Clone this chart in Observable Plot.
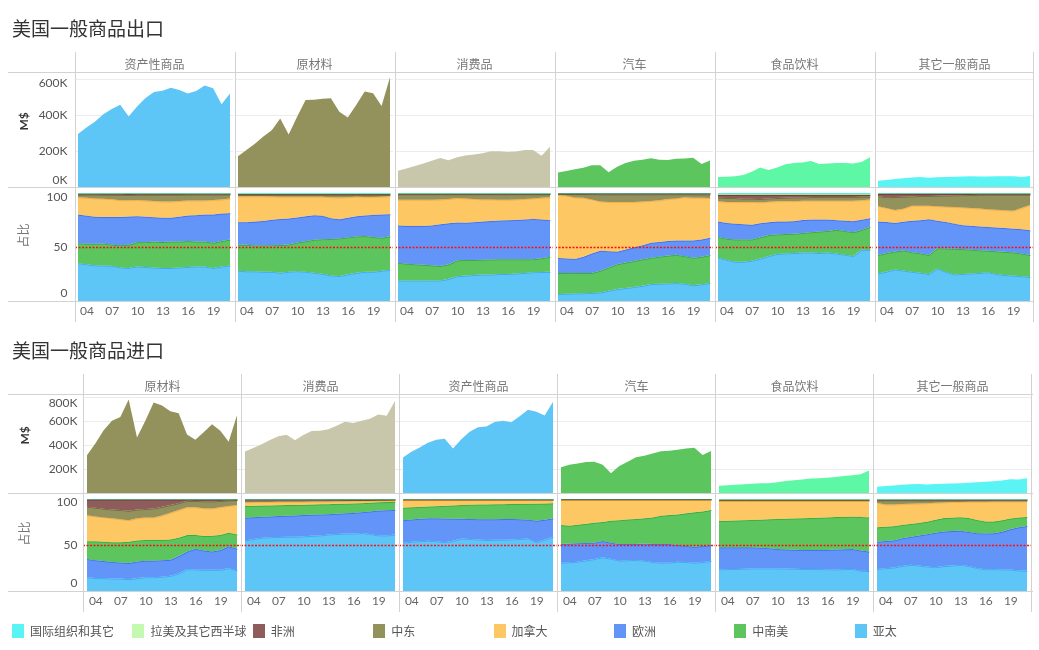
<!DOCTYPE html>
<html><head><meta charset="utf-8">
<script src="https://cdn.jsdelivr.net/npm/d3@7"></script>
<script src="https://cdn.jsdelivr.net/npm/@observablehq/plot@0.6"></script>
<style>
body{margin:0;background:#fff;}
#root{position:relative;width:1039px;height:650px;overflow:hidden;font-family:"Noto Sans CJK SC",sans-serif;}
.title{position:absolute;left:12px;font-size:19px;line-height:19px;color:#333;font-family:"Noto Sans CJK SC",sans-serif;}
.abs{position:absolute;left:0;width:1039px;}
.hl{position:absolute;left:8px;width:1025px;height:1px;background:#d2d2d2;}
#legend{position:absolute;left:12px;top:614px;width:1020px;}
#legend [class$="-swatches-wrap"]{font-family:"Noto Sans CJK SC",sans-serif !important;font-size:12px !important;color:#555 !important;}
#legend [class$="-swatch"]{width:120.4px;margin-right:0 !important;}
#legend [class$="-swatch"] > svg{margin-right:6px !important;}
</style>
</head><body>
<div id="root">
  <div class="title" style="top:18px">美国一般商品出口</div>
  <div id="exTop" class="abs" style="top:52px"></div>
  <div id="exBot" class="abs" style="top:188px"></div>
  <div class="title" style="top:340px">美国一般商品进口</div>
  <div id="imTop" class="abs" style="top:374px"></div>
  <div id="imBot" class="abs" style="top:493px"></div>
  <div class="hl" style="top:72px"></div>
  <div class="hl" style="top:187px"></div>
  <div class="hl" style="top:301px"></div>
  <div class="hl" style="top:394px"></div>
  <div class="hl" style="top:493px"></div>
  <div class="hl" style="top:591px"></div>
  <div id="legend"></div>
</div>
<script>
// ---------- data ----------
const years = [2003,2004,2005,2006,2007,2008,2009,2010,2011,2012,2013,2014,2015,2016,2017,2018,2019,2020,2021];
const yearTicks = [2004,2007,2010,2013,2016,2019];
const regions = ["国际组织和其它","拉美及其它西半球","非洲","中东","加拿大","欧洲","中南美","亚太"];
const regionColors = ["#5af4f4","#c4f9b2","#905b5b","#94925c","#fdc764","#6394f8","#5cc55e","#5ec5f7"];
const categories = ["资产性商品","原材料","消费品","汽车","食品饮料","其它一般商品"];
const categoryColors = ["#5ec5f7","#94925c","#c8c7ac","#5cc55e","#5ef7a6","#5af4f4"];
const exportCats = ["资产性商品","原材料","消费品","汽车","食品饮料","其它一般商品"];
const importCats = ["原材料","消费品","资产性商品","汽车","食品饮料","其它一般商品"];
const exportStackOrder = ["亚太","中南美","欧洲","加拿大","中东","非洲","拉美及其它西半球","国际组织和其它"];
const importStackOrder = ["亚太","欧洲","中南美","加拿大","中东","非洲","拉美及其它西半球","国际组织和其它"];
const exValueTicks = [0,200,400,600];
const imValueTicks = [200,400,600,800];
const shareTicks = [0,0.5,1];

// export totals (K M$)
const exCapital    = [294,331,362,404,433,457,392,447,494,527,534,551,539,519,533,563,548,460,519];
const exIndustrial = [171,205,240,280,315,381,292,390,483,485,490,493,418,386,455,530,520,450,610];
const exConsumer   = [90,103,116,130,146,161,149,165,175,181,188,199,198,194,197,206,205,174,223];
const exAuto       = [81,89,98,107,121,121,82,112,133,146,152,159,151,150,157,158,162,128,147];
const exFood       = [55,57,59,66,84,108,94,108,126,133,136,144,128,130,133,133,131,139,165];
const exOther      = [35,39,44,48,53,55,51,54,55,57,58,59,58,58,59,60,60,56,61];
// import totals (K M$)
const imIndustrial = [314,412,523,602,634,779,462,603,755,730,681,665,487,443,507,574,520,428,649];
const imConsumer   = [345,375,407,442,474,485,440,484,517,520,532,560,594,584,602,620,655,645,767];
const imCapital    = [296,343,380,418,444,453,370,449,510,548,555,591,602,589,640,693,678,647,761];
const imAuto       = [214,235,245,258,260,235,165,225,260,298,310,330,348,352,360,372,378,317,350];
const imFood       = [61,64,68,73,78,82,82,90,100,106,112,120,124,128,134,142,148,156,187];
const imOther      = [53,58,63,68,72,75,70,74,78,80,82,86,90,94,99,105,115,112,123];

// export shares (%) in exportStackOrder: 亚太, 中南美, 欧洲, 加拿大, 中东, 非洲, 拉美, 国际
const exCapitalShare = [
  [35,34,33,33,32.5,31,30.5,32,31.5,31,30.5,30.5,31,31.5,32,32,30.5,32,33],
  [18.5,19,20,20.5,19.5,20.5,21.5,22.5,23,24,24,24.5,24,24,23,23,23.5,23.5,24],
  [26.5,26,25,24.5,25.5,26,26,24,23.5,22.5,22.5,22,23,23.5,24.5,25,26,25.5,24.5],
  [16,16.5,17,17,16.5,15.5,15,15,15,15,15,15,14.5,14,13.5,13,13.5,13,13.5],
  [2.5,3,3.5,3.8,4,5,5,4.7,5.3,5.8,6.3,6.3,5.8,5.4,5.5,5.5,5,4.6,3.8],
  [0.8,0.8,0.8,0.9,1,1,1.1,1,1,1,0.9,0.9,0.9,0.8,0.8,0.8,0.8,0.8,0.7],
  [0.4,0.4,0.4,0.4,0.4,0.4,0.4,0.4,0.4,0.4,0.4,0.4,0.4,0.4,0.4,0.4,0.4,0.4,0.4],
  [0.3,0.3,0.3,0.3,0.3,0.3,0.3,0.3,0.3,0.3,0.3,0.3,0.3,0.3,0.3,0.3,0.3,0.3,0.3]
];
const exIndustrialShare = [
  [28,27.5,27.5,27,27,26,27,27.5,27,26,25,23.5,23,24.5,26,27,27,28,29],
  [24,24.5,24,24.5,24.5,25.5,25,26.5,28,30.5,32,33.5,34.5,34,33.5,33,32,30.5,31],
  [21,21,22,22.5,23.5,24,24,23,23,22.5,21.5,19,17.5,18,18.5,19,20.5,21.5,20.5],
  [24,24,23.5,22.8,21.5,20.5,20,19,18,17,17.5,19.5,20,19,18,17,16.5,16.5,16.5],
  [1.3,1.3,1.3,1.4,1.5,1.8,1.8,1.8,1.8,1.8,1.8,2.1,2.5,2.1,1.8,2,2,1.7,1.4],
  [0.7,0.7,0.7,0.7,0.7,0.7,0.7,0.7,0.7,0.7,0.7,0.7,0.7,0.7,0.7,0.7,0.7,0.7,0.7],
  [0.6,0.6,0.6,0.6,0.6,0.6,0.6,0.6,0.6,0.6,0.6,0.6,0.6,0.6,0.6,0.6,0.6,0.6,0.6],
  [0.4,0.4,0.4,0.4,0.4,0.4,0.4,0.4,0.4,0.4,0.4,0.4,0.4,0.4,0.4,0.4,0.4,0.4,0.4]
];
const exConsumerShare = [
  [19,19,19,19,19,19,20.5,23,23.5,24,24.5,24.5,25,25,25.5,26,26.7,26.8,27],
  [16.5,15.5,15,14.5,14,13.4,13.5,14.7,14.5,14,13.8,14,13.7,13.7,13.2,12.7,12,12.7,14],
  [34.5,35,35.5,36,37,38.6,38,34.9,34.5,35,35.2,35.5,35.8,36.1,36.3,36.8,37.3,36,33.8],
  [23.7,24.2,24.2,24.2,23.7,23,22.5,22.7,22.5,21.5,20.5,20,19.3,18.9,19,19,19,20,21.2],
  [5.1,5.1,5.1,5.1,5.1,4.8,4.3,3.5,3.8,4.3,4.8,4.8,5,5.1,4.8,4.3,3.8,3.3,2.8],
  [0.5,0.5,0.5,0.5,0.5,0.5,0.5,0.5,0.5,0.5,0.5,0.5,0.5,0.5,0.5,0.5,0.5,0.5,0.5],
  [0.4,0.4,0.4,0.4,0.4,0.4,0.4,0.4,0.4,0.4,0.4,0.4,0.4,0.4,0.4,0.4,0.4,0.4,0.4],
  [0.3,0.3,0.3,0.3,0.3,0.3,0.3,0.3,0.3,0.3,0.3,0.3,0.3,0.3,0.3,0.3,0.3,0.3,0.3]
];
const exAutoShare = [
  [6.6,6.8,7,7.2,7.5,7.9,9.5,11,12,12.9,14,15.7,16,16.3,16.7,16,14.5,15.5,16.7],
  [19.4,19.2,19,18.8,18.5,20.1,21.5,23,23.5,24.1,24.5,24.3,25,25.7,26.1,25.5,25.5,25.5,25.8],
  [14,13.5,13,15,18,18.5,15,11.6,12,12.7,13,13.8,13.5,13.5,13.2,14.5,16,16,16],
  [58.4,58,57,54.5,50,45.5,45.5,45.9,44,41.8,40.5,38.7,38.5,38.8,39,40,39.5,38.5,36.8],
  [1.1,1.8,3.2,3.5,4.8,6.5,7,7,7,7,6.5,6,5.6,4.4,3.8,2.9,3.3,3.2,3.2],
  [0.3,0.4,0.5,0.6,0.7,0.9,0.9,0.9,0.9,0.9,0.9,0.9,0.8,0.8,0.8,0.7,0.8,0.9,1],
  [0.2,0.2,0.2,0.2,0.2,0.2,0.2,0.2,0.2,0.2,0.2,0.2,0.2,0.2,0.2,0.2,0.2,0.2,0.2],
  [0.2,0.2,0.2,0.2,0.2,0.2,0.2,0.2,0.2,0.2,0.2,0.2,0.2,0.2,0.2,0.2,0.2,0.2,0.2]
];
const exFoodShare = [
  [40,38,36,36,37,39,41.5,43.4,44,44.5,45,45,44.5,45,44,43,41.8,47.5,47.5],
  [19,19.5,20.6,20.6,19.6,19.5,19.2,18.1,18,17.8,18,18.8,20,20,22,22,22,18.5,21.5],
  [14.3,14.5,14.4,13.9,13.4,13,11.8,11.8,11.5,11.7,12,11.7,11,10.5,9,9.5,10.2,9.5,8],
  [18.7,19.5,20,20.5,21,19.1,19,18.7,19,18.5,18,17.5,17.5,17.5,18,18.5,19,18,17.3],
  [3.3,3.5,3.5,3,3,3.1,3,3,3,3.5,3,3.5,3.5,3.5,3.5,3.5,3.5,3.3,2.7],
  [2.7,3,3,3.5,3.5,3.8,3.3,3,2.7,2.4,2.4,2,2,2,2,2,2,1.8,1.7],
  [1,1,1,1,1,1,1,1,1,1,1,1,1,1,1,1,1,1,1],
  [0.7,0.7,0.7,0.7,0.7,0.7,0.7,0.7,0.7,0.7,0.7,0.7,0.7,0.7,0.7,0.7,0.7,0.7,0.7]
];
const exOtherShare = [
  [25.5,27,29,28,27,26,25,30,27,24.5,25,25.5,26,26.7,25,24,23.5,23,22.3],
  [17,17,16.5,18.5,18,18,17.5,18.7,21.5,23.7,23,22,21,19.8,21,21.5,21.5,21,20.2],
  [30.8,28.5,26.2,26.5,29,30.5,33,25.3,24.5,23.3,22,22,22,22,22,22,22,22.5,22.9],
  [14.1,13,11.9,12,14,13.5,12.5,13.5,14,15.3,16.5,16.5,16.5,16.5,16.5,16.5,16.6,19.5,23.6],
  [9.4,9.8,11.9,11,8.5,9,9,9.7,10.4,10.8,11.3,12,12.7,13.4,13.9,14.4,14.8,12.4,9.4],
  [2.2,3.2,3,2.7,2.5,2,2,1.8,1.6,1.5,1.3,1.2,1,0.9,0.9,0.9,0.9,0.9,0.9],
  [0.4,0.4,0.4,0.4,0.4,0.4,0.4,0.4,0.4,0.4,0.4,0.4,0.4,0.4,0.4,0.4,0.4,0.4,0.4],
  [0.3,0.3,0.3,0.3,0.3,0.3,0.3,0.3,0.3,0.3,0.3,0.3,0.3,0.3,0.3,0.3,0.3,0.3,0.3]
];
// import shares (%) in importStackOrder: 亚太, 欧洲, 中南美, 加拿大, 中东, 非洲, 拉美, 国际
const imIndustrialShare = [
  [15,14,14,13.5,13.5,12.8,14,15,15,15.5,16.5,19,23.8,23.5,23,23,23,25,22.3],
  [19.8,19.5,18.5,18,17.5,17.6,18,18,18,18,17.5,19,19.2,22.3,21,20,21.5,23.7,23.5],
  [19.2,20.5,21,21.5,22,23.1,23,22.5,22.5,22,22,20,17.8,15.2,15.7,17,16.5,14.7,15.7],
  [28.4,27,26.5,26,25,23.5,24,24.5,24.5,26.5,29,30,30.2,30,30.3,29.7,30,29.1,31.9],
  [9.2,9.5,9.5,9.5,10,10.2,9.5,9,9.7,9.5,8.4,7.5,7,6.8,7.5,7.7,6.8,6,5.5],
  [7.9,9,10,11,11.5,12.3,11,10.5,9.8,8,6.1,4,1.5,1.7,2,2.1,1.7,1,0.6],
  [0.2,0.2,0.2,0.2,0.2,0.2,0.2,0.2,0.2,0.2,0.2,0.2,0.2,0.2,0.2,0.2,0.2,0.2,0.2],
  [0.3,0.3,0.3,0.3,0.3,0.3,0.3,0.3,0.3,0.3,0.3,0.3,0.3,0.3,0.3,0.3,0.3,0.3,0.3]
];
const imConsumerShare = [
  [55,56.5,58,58.5,58.8,59,59,59.5,60,60.5,61.5,62,62.5,62.5,63,62,60.5,60.5,61.5],
  [24.8,23.7,22.6,22.5,22.6,22.8,23.2,23.1,23,22.8,22,22,22,22.5,22.8,24.6,27,27.5,26.8],
  [12.7,12.4,12.2,12,11.8,11.6,11.4,11.2,11,11,11,10.8,10.5,10.3,9.8,9.4,9,8.8,8.7],
  [4,4,3.9,3.8,3.7,3.6,3.5,3.4,3.3,3.1,3,2.8,2.7,2.5,2.3,2,1.7,1.6,1.6],
  [1.8,1.8,1.8,1.7,1.6,1.5,1.5,1.4,1.4,1.3,1.3,1.2,1.2,1.1,1.1,1,0.9,0.8,0.7],
  [1.2,1.1,1,1,1,1,1,1,0.9,0.9,0.8,0.8,0.7,0.7,0.6,0.6,0.5,0.5,0.4],
  [0.3,0.3,0.3,0.3,0.3,0.3,0.3,0.3,0.3,0.3,0.3,0.3,0.3,0.3,0.3,0.3,0.3,0.3,0.3],
  [0.2,0.2,0.2,0.2,0.2,0.2,0.2,0.2,0.2,0.2,0.2,0.2,0.2,0.2,0.2,0.2,0.2,0.2,0.2]
];
const imCapitalShare = [
  [52.5,53.5,54.2,54.7,54,53,54.5,57,56.5,56,55.4,55.6,55.8,56,56.5,57,53,56,59],
  [24.5,24.3,24.3,24.3,25,25.8,24.1,21.5,21.8,22.1,22.6,22.4,22.4,22.3,21.5,20.5,23.4,21.5,20],
  [13.6,13.2,12.8,12.8,13.2,13.8,14.4,15,15.5,15.9,16.1,16.2,16.2,16.3,16.7,17.3,18.5,17.5,16.3],
  [8.2,7.8,7.5,7,6.6,6.2,5.8,5.3,5,4.8,4.7,4.6,4.4,4.2,4.1,4,3.9,3.8,3.5],
  [0.5,0.5,0.5,0.5,0.5,0.5,0.5,0.5,0.5,0.5,0.5,0.5,0.5,0.5,0.5,0.5,0.5,0.5,0.5],
  [0.2,0.2,0.2,0.2,0.2,0.2,0.2,0.2,0.2,0.2,0.2,0.2,0.2,0.2,0.2,0.2,0.2,0.2,0.2],
  [0.2,0.2,0.2,0.2,0.2,0.2,0.2,0.2,0.2,0.2,0.2,0.2,0.2,0.2,0.2,0.2,0.2,0.2,0.2],
  [0.3,0.3,0.3,0.3,0.3,0.3,0.3,0.3,0.3,0.3,0.3,0.3,0.3,0.3,0.3,0.3,0.3,0.3,0.3]
];
const imAutoShare = [
  [30.8,31.3,31.9,33.3,34.8,36.6,35,33,33.5,33.7,33,31.5,30.8,31,31.9,31.5,30.8,31.5,32.6],
  [20.2,20.2,20.1,19,17.7,17.7,17.5,18,17.5,17.3,18.5,19.5,20.2,20,18.1,17.5,17.2,17.5,17.4],
  [20.7,19.5,20,20.7,21.8,20.7,23.9,26,26.8,27.3,27.5,29,30.9,31.5,33.2,35.4,37.5,37.5,38],
  [27.6,28.3,27.3,26.3,25,24.3,22.9,22.3,21.5,21,20.3,19.3,17.4,16.8,16.1,14.9,13.8,12.8,11.3],
  [0.1,0.1,0.1,0.1,0.1,0.1,0.1,0.1,0.1,0.1,0.1,0.1,0.1,0.1,0.1,0.1,0.1,0.1,0.1],
  [0.3,0.3,0.3,0.3,0.3,0.3,0.3,0.3,0.3,0.3,0.3,0.3,0.3,0.3,0.3,0.3,0.3,0.3,0.3],
  [0.1,0.1,0.1,0.1,0.1,0.1,0.1,0.1,0.1,0.1,0.1,0.1,0.1,0.1,0.1,0.1,0.1,0.1,0.1],
  [0.2,0.2,0.2,0.2,0.2,0.2,0.2,0.2,0.2,0.2,0.2,0.2,0.2,0.2,0.2,0.2,0.2,0.2,0.2]
];
const imFoodShare = [
  [23.5,23.8,24,24.3,24.6,24.6,24.6,24.6,24.4,24.2,24,24,23.8,23.6,23.5,23.8,24,22,21.7],
  [24,23.7,23.5,23.2,22.9,22.4,21.9,21,20.8,20.6,20.6,20.6,20.8,21,21.5,21.5,21.6,22,21.1],
  [28.5,28.8,29.1,29.5,29.7,30.5,31.5,32.7,33.3,34,34.4,34.7,35,35.4,35.3,35.2,35.2,36.5,37.2],
  [21.8,21.5,21.2,20.8,20.6,20.3,19.8,19.5,19.3,19,18.8,18.5,18.2,17.8,17.5,17.3,17,17.3,17.8],
  [0.8,0.8,0.8,0.8,0.8,0.8,0.8,0.8,0.8,0.8,0.8,0.8,0.8,0.8,0.8,0.8,0.8,0.8,0.8],
  [0.6,0.6,0.6,0.6,0.6,0.6,0.6,0.6,0.6,0.6,0.6,0.6,0.6,0.6,0.6,0.6,0.6,0.6,0.6],
  [0.4,0.4,0.4,0.4,0.4,0.4,0.4,0.4,0.4,0.4,0.4,0.4,0.4,0.4,0.4,0.4,0.4,0.4,0.4],
  [0.4,0.4,0.4,0.4,0.4,0.4,0.4,0.4,0.4,0.4,0.4,0.4,0.4,0.4,0.4,0.4,0.4,0.4,0.4]
];
const imOtherShare = [
  [24,24.7,25.4,27,28.3,27.5,26.5,25.7,27,27.5,28.3,27,25,23.5,23.8,23.5,23.5,22.5,22],
  [29.6,29.3,29.3,30,30.2,32.5,35,37.3,37.5,37.5,36.9,37,37.7,39,38.9,41,43.9,47,49],
  [15.6,15.5,15.3,14.5,14,13.6,13.5,14,14.5,14.5,14.8,15,14.3,12.9,12.8,12.5,11.6,10.5,9.8],
  [26.8,24,23.5,22.5,21.8,21,20,18.5,17,16.9,16.5,17.6,19.8,21.6,21.7,20.3,18.5,17.6,17],
  [2.5,4.5,4.5,4,3.7,3.4,3,2.5,2.2,1.8,1.7,1.6,1.5,1.4,1.3,1.3,1.2,1.2,1.1],
  [0.8,0.8,0.8,0.8,0.8,0.8,0.8,0.8,0.8,0.8,0.8,0.8,0.8,0.8,0.8,0.8,0.8,0.8,0.8],
  [0.4,0.4,0.4,0.4,0.4,0.4,0.4,0.4,0.4,0.4,0.4,0.4,0.4,0.4,0.4,0.4,0.4,0.4,0.4],
  [0.3,0.3,0.3,0.3,0.3,0.3,0.3,0.3,0.3,0.3,0.3,0.3,0.3,0.3,0.3,0.3,0.3,0.3,0.3]
];

// ---------- rendering ----------
const numFont = "Lato, 'Noto Sans CJK SC', sans-serif";
const cjkFont = "'Noto Sans CJK SC', sans-serif";
const sepColor = "#d2d2d2";

function renderSection(cfg) {
  const topData = cfg.cats.flatMap((c, i) => years.map((yr, j) => ({cat: c, year: yr, value: cfg.totals[i][j]})));
  const shareData = cfg.cats.flatMap((c, i) => cfg.order.flatMap((r, k) => years.map((yr, j) => ({cat: c, region: r, year: yr, share: cfg.shares[i][k][j]}))));
  const last = cfg.cats[cfg.cats.length - 1];
  const common = {
    width: 1039, marginLeft: cfg.ml, marginRight: cfg.mr,
    fx: {domain: cfg.cats, paddingInner: cfg.pad, paddingOuter: 0, axis: null, label: null},
    x: {domain: [2003, 2021], axis: null, label: null},
    style: {fontFamily: numFont, background: "transparent", overflow: "visible"}
  };
  const seps = (t, b) => [
    Plot.ruleX([2003], {dx: -cfg.sepL, insetTop: -t, insetBottom: -b, stroke: sepColor}),
    Plot.ruleX([last], {fx: d => d, x: () => 2021, dx: cfg.sepR, insetTop: -t, insetBottom: -b, stroke: sepColor})
  ];
  const yAxes = (ticks, fmt, dys) => ticks.map(t => Plot.axisY([t], {
    tickSize: 0, tickPadding: cfg.tickPad, tickFormat: fmt, fontSize: 12, color: "#555", label: null, dy: dys[t] || 0
  }));

  const top = Plot.plot({
    ...common,
    height: cfg.topH, marginTop: 21, marginBottom: cfg.topMB,
    y: {domain: [0, cfg.yMax], axis: null, label: null},
    color: {domain: cfg.cats, range: cfg.cats.map(c => categoryColors[categories.indexOf(c)])},
    marks: [
      Plot.gridY(cfg.valueTicks.filter(v => v > 0), {stroke: "#ececec", strokeOpacity: 1, insetLeft: -cfg.sepL, insetRight: -cfg.sepR}),
      Plot.areaY(topData, {x: "year", y: "value", fx: "cat", fill: "cat"}),
      Plot.axisFx({anchor: "top", tickSize: 0, tickPadding: 5, fontSize: 12, color: "#777", label: null, fontFamily: cjkFont}),
      ...yAxes(cfg.valueTicks, d => d + "K", cfg.topDy),
      Plot.text([cfg.cats[0]], {fx: d => d, text: () => "M$", frameAnchor: "left", dx: cfg.labelDx, rotate: -90, fontSize: 12, fontWeight: "bold", fill: "#333"}),
      ...seps(21, cfg.topMB)
    ]
  });

  const bot = Plot.plot({
    ...common,
    height: cfg.botH, marginTop: cfg.botMT, marginBottom: 21,
    y: {domain: [0, 1], axis: null, label: null},
    color: {domain: regions, range: regionColors},
    marks: [
      Plot.areaY(shareData, Plot.stackY({x: "year", y: "share", z: "region", fill: "region", fx: "cat", order: cfg.order, offset: "normalize"})),
      Plot.lineY(shareData, Plot.stackY2({x: "year", y: "share", z: "region", stroke: "region", fx: "cat", order: cfg.order, offset: "normalize", strokeWidth: 1, strokeOpacity: 0.55, mixBlendMode: "multiply"})),
      Plot.ruleY([0.5], {stroke: "#ff1010", strokeWidth: 1.3, strokeDasharray: "2,1.5", insetLeft: -cfg.sepL, insetRight: -cfg.sepR}),
      Plot.axisX(yearTicks, {tickSize: 0, tickPadding: 5, tickFormat: d => String(d).slice(2), fontSize: 12, color: "#666", label: null}),
      ...yAxes(shareTicks, d => String(Math.round(d * 100)), cfg.botDy),
      Plot.text([cfg.cats[0]], {fx: d => d, text: () => "占比", frameAnchor: "left", dx: cfg.labelDx, rotate: -90, fontSize: 12, fill: "#777", fontFamily: cjkFont}),
      ...seps(cfg.botMT, 21)
    ]
  });
  document.getElementById(cfg.topId).append(top);
  document.getElementById(cfg.botId).append(bot);
}

renderSection({
  topId: "exTop", botId: "exBot",
  cats: exportCats, order: exportStackOrder,
  totals: [exCapital, exIndustrial, exConsumer, exAuto, exFood, exOther],
  shares: [exCapitalShare, exIndustrialShare, exConsumerShare, exAutoShare, exFoodShare, exOtherShare],
  yMax: 633, valueTicks: exValueTicks,
  ml: 78, mr: 9, pad: 0.05, sepL: 3, sepR: 3, tickPad: 11, labelDx: -54,
  topH: 136, topMB: 1, botH: 134, botMT: 5,
  topDy: {600: 4, 0: -7}, botDy: {1: 4, 0: -8}
});
renderSection({
  topId: "imTop", botId: "imBot",
  cats: importCats, order: importStackOrder,
  totals: [imIndustrial, imConsumer, imCapital, imAuto, imFood, imOther],
  shares: [imIndustrialShare, imConsumerShare, imCapitalShare, imAutoShare, imFoodShare, imOtherShare],
  yMax: 817, valueTicks: imValueTicks,
  ml: 86, mr: 10, pad: 0.048, sepL: 4, sepR: 4, tickPad: 10, labelDx: -62,
  topH: 119, topMB: 0, botH: 119, botMT: 6,
  topDy: {800: 6}, botDy: {1: 3, 0: -8}
});

const legend = Plot.legend({
  color: {domain: regions, range: regionColors, type: "ordinal"},
  legend: "swatches", swatchWidth: 12, swatchHeight: 14
});
document.getElementById("legend").append(legend);
</script>
</body></html>
